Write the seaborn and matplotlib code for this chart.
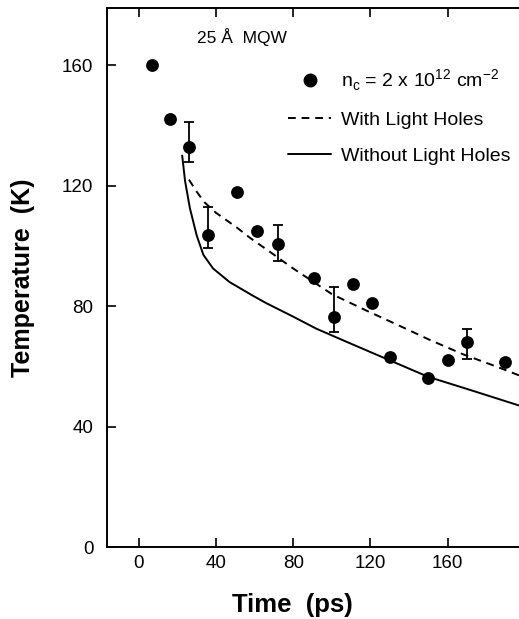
import matplotlib
matplotlib.use("Agg")
import matplotlib.pyplot as plt
from matplotlib.lines import Line2D
import seaborn as sns
import pandas as pd
import numpy as np

# ---- data ----
time_ps = [7, 16, 26, 36, 51, 61, 72, 91, 101, 111, 121, 130, 150, 160, 170, 190]
temp_K = [160, 142, 133, 103.5, 118, 105, 100.5, 89.5, 76.5, 87.5, 81, 63, 56, 62, 68, 61.5]

err_time = [26, 36, 72, 101, 170]
err_center = [133, 103.5, 100.5, 76.5, 68]
err_low = [128, 99.3, 95, 71.4, 62.3]
err_high = [141, 113, 107, 86.3, 72.5]

with_lh_time = [26, 30, 34, 40, 51, 58, 68, 80, 100, 118, 135, 150, 168, 185, 197]
with_lh_temp = [122, 118, 114.5, 111, 106, 102.5, 98, 92.5, 84, 78.5, 73.5, 69, 64, 60, 57]

without_lh_time = [22.5, 24, 26.5, 30, 33.5, 38.5, 47, 59, 66, 80, 92, 110, 130, 150, 170, 197]
without_lh_temp = [130, 121.5, 112.5, 103.5, 97, 92.5, 88, 83.5, 81, 76.5, 72.5, 67.5, 62, 56.5, 52.5, 47]

x_ticks = [0, 40, 80, 120, 160]
y_ticks = [0, 40, 80, 120, 160]

sns.set_theme(style="ticks")
plt.rcParams['font.family'] = ['Liberation Sans', 'DejaVu Sans']
plt.rcParams['mathtext.fontset'] = 'custom'
plt.rcParams['mathtext.rm'] = 'Liberation Sans'
plt.rcParams['text.color'] = 'black'
plt.rcParams['axes.labelcolor'] = 'black'
plt.rcParams['xtick.color'] = 'black'
plt.rcParams['ytick.color'] = 'black'

fig = plt.figure(figsize=(5.19, 6.19), dpi=100)
ax = fig.add_axes([107.3 / 519, 1 - 547 / 619, 1 - 107.3 / 519, (547 - 8) / 619])

pts = pd.DataFrame({"time": time_ps, "temp": temp_K})
dash = pd.DataFrame({"time": with_lh_time, "temp": with_lh_temp})
solid = pd.DataFrame({"time": without_lh_time, "temp": without_lh_temp})

sns.lineplot(data=dash, x="time", y="temp", ax=ax, color="black", lw=1.4,
             sort=False, estimator=None, linestyle=(0, (4, 3)))
sns.lineplot(data=solid, x="time", y="temp", ax=ax, color="black", lw=1.4,
             sort=False, estimator=None)

yerr = np.array([np.array(err_center) - np.array(err_low),
                 np.array(err_high) - np.array(err_center)])
ax.errorbar(err_time, err_center, yerr=yerr, fmt="none", ecolor="black",
            elinewidth=1.3, capsize=3.5, capthick=1.3)

sns.scatterplot(data=pts, x="time", y="temp", ax=ax, color="black", s=85,
                edgecolor="black", linewidth=0, zorder=5)

ax.set_xlim(-16.3, 197)
ax.set_ylim(0, 179)
ax.set_xticks(x_ticks)
ax.set_yticks(y_ticks)
ax.tick_params(direction="in", length=6.5, width=1.2, labelsize=13.5,
               colors="black", top=True, right=False)
ax.tick_params(axis="y", pad=10)
ax.tick_params(axis="x", pad=6)
for s in ["left", "bottom", "top"]:
    ax.spines[s].set_linewidth(1.4)
    ax.spines[s].set_color("black")
ax.spines["right"].set_visible(False)

ax.set_xlabel("Time  (ps)", fontsize=18.5, fontweight="bold")
ax.set_ylabel("Temperature  (K)", fontsize=18, fontweight="bold")
ax.xaxis.set_label_coords(0.449, -0.085)
ax.yaxis.set_label_coords(-0.175, 0.5)

ax.text(30, 169.5, "25 Å  MQW", fontsize=12.5, ha="left", va="center")

handles = [
    Line2D([], [], color="black", marker="o", linestyle="none", markersize=9),
    Line2D([], [], color="black", lw=1.4, linestyle=(0, (4, 3))),
    Line2D([], [], color="black", lw=1.4),
]
labels = [
    r"n$_{\mathregular{c}}$ = 2 x 10$^{\mathregular{12}}$ cm$^{\mathregular{-2}}$",
    "With Light Holes",
    "Without Light Holes",
]
leg = ax.legend(handles, labels, loc="upper left", bbox_to_anchor=(0.44, 0.89),
                frameon=False, fontsize=14, handlelength=2.2, labelspacing=0.93,
                handletextpad=0.5, borderpad=0, borderaxespad=0)

fig.savefig("out.png", dpi=100)
